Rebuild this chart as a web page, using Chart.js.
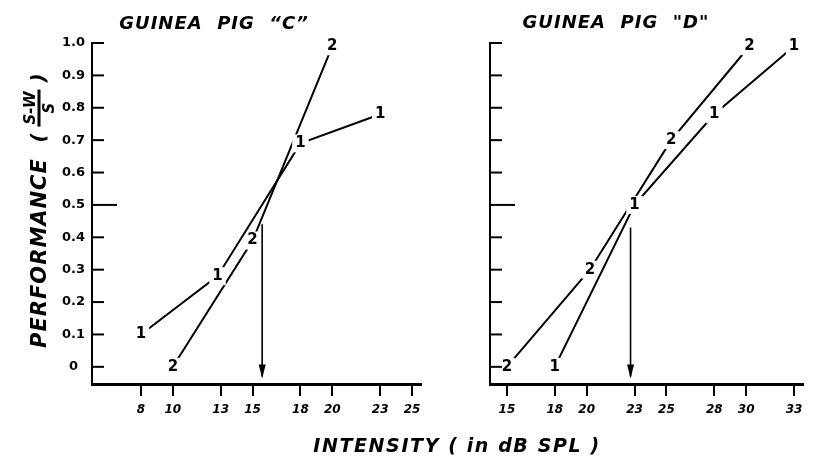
<!DOCTYPE html>
<html>
<head>
<meta charset="utf-8">
<script src="https://cdn.jsdelivr.net/npm/chart.js@4.4.0/dist/chart.umd.min.js"></script>
<style>
  body { margin: 0; background: #fff; width: 815px; height: 457px; position: relative; overflow: hidden;
         font-family: "DejaVu Sans", sans-serif; color: #000; }
  canvas { position: absolute; left: 0; top: 0; }
  .ttl { position: absolute; font-weight: bold; font-style: italic; font-size: 18px; white-space: pre;
         letter-spacing: 1px; transform: translate(-50%, -50%); }
  .rot { position: absolute; transform: translate(-50%, -50%) rotate(-90deg); white-space: pre;
         font-weight: bold; font-style: italic; }
  .frac { display: inline-block; vertical-align: middle; text-align: center; font-size: 15px; line-height: 16px; }
  .frac .num { display: block; border-bottom: 3px solid #000; padding: 0 2px; }
  .frac .den { display: block; }
</style>
</head>
<body>
<canvas id="pigC" width="815" height="457"></canvas>
<canvas id="pigD" width="815" height="457"></canvas>

<div class="ttl" style="left:214px; top:22px;">GUINEA  PIG  “C”</div>
<div class="ttl" style="left:616px; top:21px;">GUINEA  PIG  "D"</div>
<div class="ttl" style="left:457px; top:445px; font-size:19px; letter-spacing:1.6px;">INTENSITY ( in dB SPL )</div>
<div class="rot" style="left:39px; top:253px; font-size:21px; letter-spacing:1px;">PERFORMANCE</div>
<div class="rot" style="left:39px; top:108px; font-size:20px;">( <span class="frac"><span class="num">S-W</span><span class="den">S</span></span> )</div>

<script>
// tick values
const yTicks = [0, 0.1, 0.2, 0.3, 0.4, 0.5, 0.6, 0.7, 0.8, 0.9, 1.0];
const xTicksC = [8, 10, 13, 15, 18, 20, 23, 25];
const xTicksD = [15, 18, 20, 23, 25, 28, 30, 33];

// guinea pig C
const c1X = [8, 12.8, 18, 23];
const c1Y = [0.1, 0.28, 0.69, 0.78];
const c2X = [10, 15, 20];
const c2Y = [0, 0.39, 0.99];
const arrowCX = [15.6, 15.6];
const arrowCY = [0.44, -0.03];

// guinea pig D
const d1X = [18, 23, 28, 33];
const d1Y = [0, 0.5, 0.78, 0.99];
const d2X = [15, 20.2, 25.3, 30.2];
const d2Y = [0, 0.3, 0.7, 0.99];
const arrowDX = [22.75, 22.75];
const arrowDY = [0.43, -0.03];

const pts = (xs, ys) => xs.map((x, i) => ({ x: x, y: ys[i] }));

// numbers "1" / "2" sitting on the data points, with a white gap round them
const markLabels = {
  id: 'markLabels',
  afterDatasetDraw(chart, args) {
    const ds = chart.data.datasets[args.index];
    const ctx = chart.ctx;
    ctx.save();
    if (ds.mark) {
      ctx.font = 'bold 15px "DejaVu Sans"';
      ctx.textAlign = 'center';
      ctx.textBaseline = 'middle';
      args.meta.data.forEach(p => {
        const w = ctx.measureText(ds.mark).width + 6;
        ctx.fillStyle = '#fff';
        ctx.fillRect(p.x - w / 2, p.y - 9, w, 18);
        ctx.fillStyle = '#000';
        ctx.fillText(ds.mark, p.x, p.y);
      });
    }
    if (ds.arrow) {
      const end = args.meta.data[args.meta.data.length - 1];
      ctx.fillStyle = '#000';
      ctx.beginPath();
      ctx.moveTo(end.x, end.y + 2);
      ctx.lineTo(end.x - 3.5, end.y - 12);
      ctx.lineTo(end.x + 3.5, end.y - 12);
      ctx.closePath();
      ctx.fill();
    }
    ctx.restore();
  }
};

// y ticks point into the plot, the 0.5 one is longer
const inwardTicks = {
  id: 'inwardTicks',
  afterDraw(chart) {
    const y = chart.scales.y;
    const left = chart.chartArea.left;
    const ctx = chart.ctx;
    ctx.save();
    ctx.strokeStyle = '#000';
    ctx.lineWidth = 2;
    y.ticks.forEach(t => {
      const py = y.getPixelForValue(t.value);
      const len = t.value === 0.5 ? 25 : 12;
      ctx.beginPath();
      ctx.moveTo(left, py);
      ctx.lineTo(left + len, py);
      ctx.stroke();
    });
    ctx.restore();
  }
};

function makeChart(id, cfg) {
  const line = { showLine: true, borderColor: '#000', borderWidth: 2, pointRadius: 0, clip: false };
  return new Chart(document.getElementById(id), {
    type: 'scatter',
    data: {
      datasets: [
        Object.assign({ data: cfg.s1, mark: '1' }, line),
        Object.assign({ data: cfg.s2, mark: '2' }, line),
        Object.assign({ data: cfg.arrow, arrow: true }, line, { borderWidth: 1.6 })
      ]
    },
    options: {
      responsive: false,
      animation: false,
      layout: { padding: { left: cfg.left - 72, right: 815 - cfg.right, top: 43, bottom: 20 } },
      plugins: { legend: { display: false }, tooltip: { enabled: false } },
      scales: {
        x: {
          type: 'linear', min: cfg.xMin, max: cfg.xMax,
          afterBuildTicks: s => { s.ticks = cfg.xTicks.map(v => ({ value: v })); },
          afterFit: s => { s.height = 457 - 384 - 20; },
          grid: { drawOnChartArea: false, drawTicks: true, tickLength: 12, lineWidth: 2, color: '#000' },
          border: { display: true, width: 3, color: '#000' },
          ticks: { color: '#000', padding: 7, maxRotation: 0, autoSkip: false,
                   font: { family: 'DejaVu Sans', size: 12, weight: 'bold', style: 'italic' } }
        },
        y: {
          type: 'linear', min: -0.053, max: 1.0,
          afterBuildTicks: s => { s.ticks = yTicks.map(v => ({ value: v })); },
          afterFit: s => { s.width = 72; },
          grid: { display: false, drawTicks: false },
          border: { display: true, width: 2, color: '#000' },
          ticks: { display: cfg.yLabels, color: '#000', padding: 7, crossAlign: 'center',
                   callback: v => v === 0 ? '0' : v.toFixed(1),
                   font: { family: 'DejaVu Sans', size: 13, weight: 'bold' } }
        }
      }
    },
    plugins: [markLabels, inwardTicks]
  });
}

makeChart('pigC', {
  s1: pts(c1X, c1Y), s2: pts(c2X, c2Y), arrow: pts(arrowCX, arrowCY),
  xTicks: xTicksC, xMin: 4.93, xMax: 25.56, left: 92, right: 421, yLabels: true
});
makeChart('pigD', {
  s1: pts(d1X, d1Y), s2: pts(d2X, d2Y), arrow: pts(arrowDX, arrowDY),
  xTicks: xTicksD, xMin: 13.94, xMax: 33.56, left: 490, right: 803, yLabels: false
});
</script>
</body>
</html>
